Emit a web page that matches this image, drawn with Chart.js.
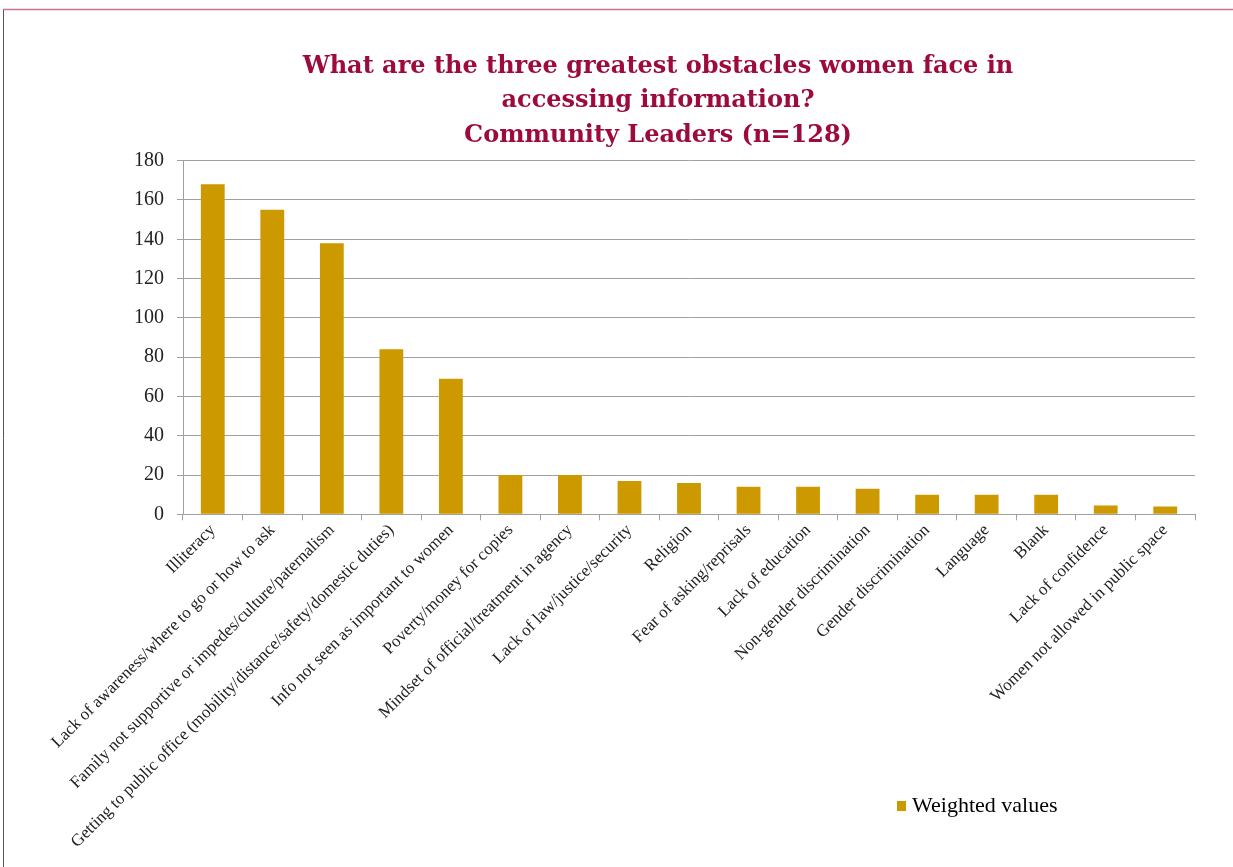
<!DOCTYPE html>
<html>
<head>
<meta charset="utf-8">
<script src="https://cdn.jsdelivr.net/npm/chart.js@4"></script>
<style>
  html, body { margin: 0; padding: 0; background: #fff; }
  #wrap { width: 1233px; height: 867px; position: relative; }
</style>
</head>
<body>
<div id="wrap"><canvas id="obstacles"></canvas></div>
<script>
const categories = [
  "Illiteracy",
  "Lack of awareness/where to go or how to ask",
  "Family not supportive or impedes/culture/paternalism",
  "Getting to public office (mobility/distance/safety/domestic duties)",
  "Info not seen as important to women",
  "Poverty/money for copies",
  "Mindset of official/treatment in agency",
  "Lack of law/justice/security",
  "Religion",
  "Fear of asking/reprisals",
  "Lack of education",
  "Non-gender discrimination",
  "Gender discrimination",
  "Language",
  "Blank",
  "Lack of confidence",
  "Women not allowed in public space"
];
const weightedValues = [168, 155, 138, 84, 69, 20, 20, 17, 16, 14, 14, 13, 10, 10, 10, 4.5, 4];
const titleLines = [
  "What are the three greatest obstacles women face in",
  "accessing information?",
  "Community Leaders (n=128)"
];

// frame lines around the picture
const framePlugin = {
  id: "frame",
  beforeDraw(chart) {
    const c = chart.ctx;
    c.save();
    c.fillStyle = "#fff";
    c.fillRect(0, 0, chart.width, chart.height);
    c.strokeStyle = "#C8728E";
    c.lineWidth = 1.5;
    c.beginPath();
    c.moveTo(3, 9.5);
    c.lineTo(chart.width, 9.5);
    c.stroke();
    c.strokeStyle = "#555";
    c.lineWidth = 1;
    c.beginPath();
    c.moveTo(3.5, 10);
    c.lineTo(3.5, chart.height);
    c.stroke();
    c.restore();
  }
};

// legend drawn at the lower right, like the original
const sideLegend = {
  id: "sideLegend",
  afterDraw(chart, args, opts) {
    const c = chart.ctx;
    const ds = chart.data.datasets[0];
    c.save();
    c.fillStyle = ds.backgroundColor;
    c.fillRect(opts.x, opts.y - 5, 9, 10);
    c.fillStyle = "#000";
    c.font = "22px 'Liberation Serif'";
    c.textBaseline = "middle";
    c.fillText(ds.label, opts.x + 15, opts.y);
    c.restore();
  }
};

new Chart(document.getElementById("obstacles"), {
  type: "bar",
  data: {
    labels: categories,
    datasets: [
      {
        label: "Weighted values",
        data: weightedValues,
        backgroundColor: "#CC9900",
        barPercentage: 0.8,
        categoryPercentage: 0.5,
      },
    ],
  },
  options: {
    responsive: true,
    maintainAspectRatio: false,
    animation: false,
    layout: {
      padding: { left: 121, right: 38, top: 49, bottom: 15 },
    },
    plugins: {
      legend: { display: false },
      tooltip: { enabled: false },
      title: {
        display: true,
        text: titleLines,
        color: "#9C0B3B",
        font: { family: "'DejaVu Serif'", size: 24, weight: "bold", lineHeight: 1.44 },
        padding: { top: 0, bottom: 8 },
      },
      sideLegend: { x: 897, y: 806 },
    },
    scales: {
      x: {
        grid: {
          drawOnChartArea: false,
          color: "#A0A0A0",
          tickLength: 6,
        },
        border: { color: "#A0A0A0" },
        ticks: {
          color: "#222",
          minRotation: 45,
          maxRotation: 45,
          autoSkip: false,
          padding: 0,
          font: { family: "'Liberation Serif'", size: 17 },
        },
      },
      y: {
        min: 0,
        max: 180,
        grid: {
          color: "#A0A0A0",
          tickLength: 6,
        },
        border: { color: "#A0A0A0" },
        ticks: {
          stepSize: 20,
          color: "#222",
          padding: 13,
          font: { family: "'Liberation Serif'", size: 20 },
        },
      },
    },
  },
  plugins: [framePlugin, sideLegend],
});
</script>
</body>
</html>
